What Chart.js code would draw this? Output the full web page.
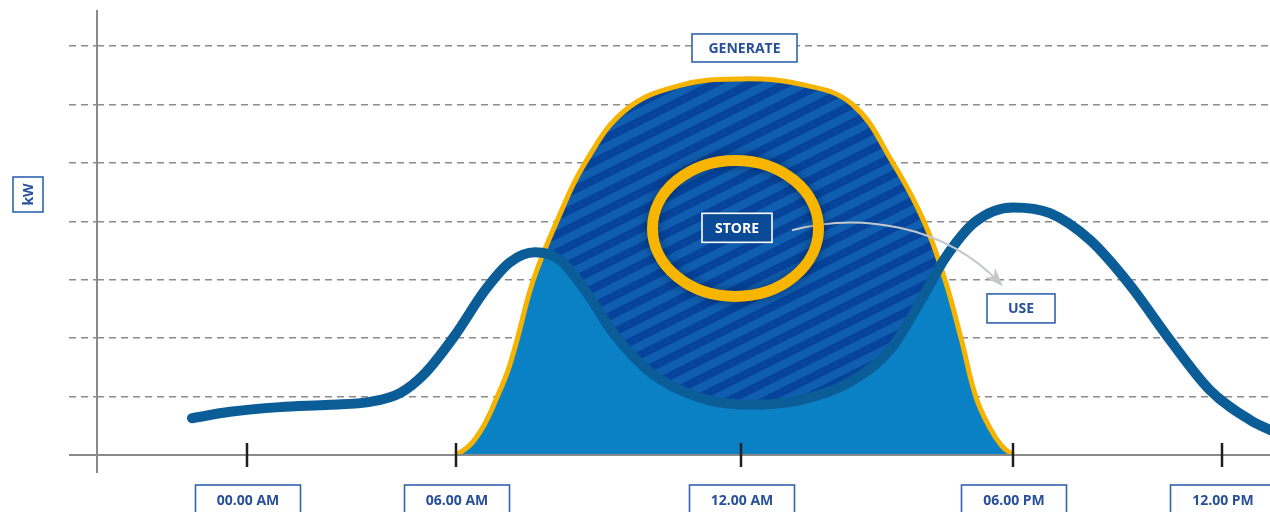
<!DOCTYPE html>
<html>
<head>
<meta charset="utf-8">
<script src="https://cdn.jsdelivr.net/npm/chart.js@4.4.0/dist/chart.umd.min.js"></script>
<style>
  html, body { margin: 0; padding: 0; background: #fff; }
</style>
</head>
<body>
<canvas id="energyChart" width="1270" height="512"></canvas>
<script>
// x is an arbitrary time axis (0..117.3), y is kW level (grid every 1)
const tickPositions = [15.0, 35.9, 64.4, 91.6, 112.5];
const tickLabels = ['00.00 AM', '06.00 AM', '12.00 AM', '06.00 PM', '12.00 PM'];
const gridLevels = [1, 2, 3, 4, 5, 6, 7];

const useX = [9.5, 13.3, 18.3, 23.3, 27.3, 30.3, 32.8, 35.8, 38.8, 41.3, 43.8, 46.3, 48.8, 51.8, 55.3, 60.3, 65.3, 70.3, 75.3, 79.3, 82.3, 84.8, 87.8, 91.6, 95.3, 99.3, 103.3, 107.3, 111.3, 115.3, 117.8];
const useY = [0.63, 0.74, 0.82, 0.86, 0.91, 1.06, 1.40, 2.05, 2.82, 3.30, 3.47, 3.34, 2.82, 2.05, 1.42, 0.98, 0.86, 0.94, 1.25, 1.80, 2.62, 3.37, 3.99, 4.24, 4.14, 3.68, 2.91, 1.97, 1.11, 0.60, 0.39];

const generateX = [35.9, 37.3, 38.7, 40.0, 41.1, 42.0, 43.6, 46.0, 48.8, 52.8, 58.3, 64.4, 70.3, 75.5, 79.6, 82.7, 84.8, 86.4, 87.9, 89.3, 90.5, 91.6];
const generateY = [0, 0.17, 0.51, 0.99, 1.45, 1.97, 2.98, 4.01, 5.00, 5.90, 6.33, 6.44, 6.35, 6.01, 5.00, 4.00, 3.00, 2.00, 0.99, 0.46, 0.15, 0];

const usePoints = useX.map((x, i) => ({ x: x, y: useY[i] }));
const generatePoints = generateX.map((x, i) => ({ x: x, y: generateY[i] }));

const notes = {
    generate: { text: 'GENERATE', x: 64.75, y: 6.97, w: 105, h: 28 },
    store: { text: 'STORE', x: 64.0, y: 3.89, w: 70, h: 29 },
    use: { text: 'USE', x: 92.4, y: 2.51, w: 68, h: 29 },
    ring: { x: 63.85, y: 3.88, rx: 8.3, ry: 1.164 },
    arrow: { from: [69.5, 3.85], c1: [76.3, 4.16], c2: [84.8, 3.94], to: [90.3, 2.94] }
};

const BLUE_TEXT = '#27509b';
const BOX_LINE = '#2f64ae';
const LABEL_FONT = 'bold 14px "Open Sans", "DejaVu Sans", sans-serif';

function stripePattern() {
    const c = document.createElement('canvas');
    c.width = 36; c.height = 18;
    const g = c.getContext('2d');
    g.fillStyle = '#05449a';
    g.fillRect(0, 0, 36, 18);
    g.strokeStyle = '#105eaf';
    g.lineWidth = 8;
    for (const off of [-18, 0, 18]) {
        g.beginPath();
        g.moveTo(-4, 18 + off + 2);
        g.lineTo(40, off - 2);
        g.stroke();
    }
    return g.createPattern(c, 'repeat');
}

function boxLabel(ctx, text, cx, cy, w, h, line, color, bg) {
    ctx.save();
    if (bg) {
        ctx.fillStyle = bg;
        ctx.fillRect(cx - w / 2, cy - h / 2, w, h);
    }
    ctx.strokeStyle = line;
    ctx.lineWidth = 1.6;
    ctx.strokeRect(cx - w / 2, cy - h / 2, w, h);
    ctx.fillStyle = color;
    ctx.font = LABEL_FONT;
    ctx.textAlign = 'center';
    ctx.textBaseline = 'middle';
    ctx.fillText(text, cx, cy + 1);
    ctx.restore();
}

const decorations = {
    id: 'decorations',
    afterDatasetsDraw(chart) {
        const { ctx, chartArea, scales: { x, y } } = chart;
        const base = y.getPixelForValue(0);
        ctx.save();
        // axes
        ctx.strokeStyle = '#8a8a8a';
        ctx.lineWidth = 2;
        ctx.beginPath();
        ctx.moveTo(69, base);
        ctx.lineTo(chartArea.right, base);
        ctx.moveTo(chartArea.left, chartArea.top);
        ctx.lineTo(chartArea.left, base + 18);
        ctx.stroke();
        // tick marks
        ctx.strokeStyle = '#1e1e1e';
        ctx.lineWidth = 2.5;
        tickPositions.forEach(v => {
            const px = Math.round(x.getPixelForValue(v));
            ctx.beginPath();
            ctx.moveTo(px, base - 12);
            ctx.lineTo(px, base + 12);
            ctx.stroke();
        });
        ctx.restore();
    },
    afterDraw(chart) {
        const { ctx, scales: { x, y } } = chart;
        const px = v => x.getPixelForValue(v);
        const py = v => y.getPixelForValue(v);
        const base = py(0);

        // arrow from STORE to USE
        const a = notes.arrow;
        const ex = px(a.to[0]), ey = py(a.to[1]);
        const c2x = px(a.c2[0]), c2y = py(a.c2[1]);
        ctx.save();
        ctx.strokeStyle = '#c4c7cb';
        ctx.fillStyle = '#c4c7cb';
        ctx.lineWidth = 2;
        ctx.beginPath();
        ctx.moveTo(px(a.from[0]), py(a.from[1]));
        ctx.bezierCurveTo(px(a.c1[0]), py(a.c1[1]), c2x, c2y, ex, ey);
        ctx.stroke();
        const ang = Math.atan2(ey - c2y, ex - c2x);
        ctx.beginPath();
        ctx.moveTo(ex + Math.cos(ang) * 4, ey + Math.sin(ang) * 4);
        ctx.lineTo(ex - Math.cos(ang - 0.45) * 16, ey - Math.sin(ang - 0.45) * 16);
        ctx.lineTo(ex - Math.cos(ang) * 9, ey - Math.sin(ang) * 9);
        ctx.lineTo(ex - Math.cos(ang + 0.45) * 16, ey - Math.sin(ang + 0.45) * 16);
        ctx.closePath();
        ctx.fill();
        ctx.restore();

        // yellow ring round STORE
        const r = notes.ring;
        const rcx = px(r.x), rcy = py(r.y);
        ctx.save();
        ctx.shadowColor = 'rgba(0, 10, 40, 0.45)';
        ctx.shadowBlur = 10;
        ctx.strokeStyle = '#f8b500';
        ctx.lineWidth = 11;
        ctx.beginPath();
        ctx.ellipse(rcx, rcy, px(r.x + r.rx) - rcx, rcy - py(r.y + r.ry), 0, 0, Math.PI * 2);
        ctx.stroke();
        ctx.restore();

        // in-chart labels
        const g = notes.generate, s = notes.store, u = notes.use;
        boxLabel(ctx, g.text, px(g.x), py(g.y), g.w, g.h, BOX_LINE, BLUE_TEXT, '#ffffff');
        boxLabel(ctx, s.text, px(s.x), py(s.y), s.w, s.h, '#ffffff', '#ffffff', '#0a4a97');
        boxLabel(ctx, u.text, px(u.x), py(u.y), u.w, u.h, BOX_LINE, BLUE_TEXT, '#ffffff');

        // time labels under the axis
        tickPositions.forEach((v, i) => {
            boxLabel(ctx, tickLabels[i], px(v) + 1, base + 45, 105, 30, BOX_LINE, BLUE_TEXT, '#ffffff');
        });

        // kW axis label
        ctx.save();
        ctx.strokeStyle = BOX_LINE;
        ctx.lineWidth = 1.6;
        ctx.strokeRect(13, 177, 30, 35);
        ctx.translate(28, 194.5);
        ctx.rotate(-Math.PI / 2);
        ctx.fillStyle = BLUE_TEXT;
        ctx.font = LABEL_FONT;
        ctx.textAlign = 'center';
        ctx.textBaseline = 'middle';
        ctx.fillText('kW', 0, 1);
        ctx.restore();
    }
};

const ctx = document.getElementById('energyChart').getContext('2d');
new Chart(ctx, {
    type: 'line',
    data: {
        datasets: [{
            label: 'Use',
            data: usePoints,
            borderColor: '#0b5d98',
            borderWidth: 10,
            borderCapStyle: 'round',
            cubicInterpolationMode: 'monotone',
            pointRadius: 0,
            fill: false,
            order: 1
        }, {
            label: 'Store',
            data: generatePoints,
            borderColor: '#f6b300',
            borderWidth: 5,
            tension: 0.4,
            pointRadius: 0,
            fill: { target: 0, above: stripePattern(), below: 'rgba(0,0,0,0)' },
            order: 2
        }, {
            label: 'Generate',
            data: generatePoints,
            borderWidth: 0,
            borderColor: 'rgba(0,0,0,0)',
            backgroundColor: '#0a80c5',
            tension: 0.4,
            pointRadius: 0,
            fill: 'origin',
            order: 3
        }]
    },
    options: {
        responsive: false,
        animation: false,
        devicePixelRatio: 1,
        layout: { padding: { left: 69, right: 0, top: 10, bottom: 57 } },
        plugins: {
            legend: { display: false },
            tooltip: { enabled: false }
        },
        scales: {
            x: {
                type: 'linear',
                min: 0,
                max: 117.3,
                display: false
            },
            y: {
                min: 0,
                max: 7.62,
                afterBuildTicks: scale => {
                    scale.ticks = gridLevels.map(v => ({ value: v }));
                },
                ticks: { display: false },
                border: { display: false, dash: [7, 5] },
                grid: {
                    color: '#8c8c8c',
                    lineWidth: 1.5,
                    tickLength: 28,
                    tickColor: '#8c8c8c',
                    tickBorderDash: [7, 5]
                }
            }
        }
    },
    plugins: [decorations]
});
</script>
</body>
</html>
